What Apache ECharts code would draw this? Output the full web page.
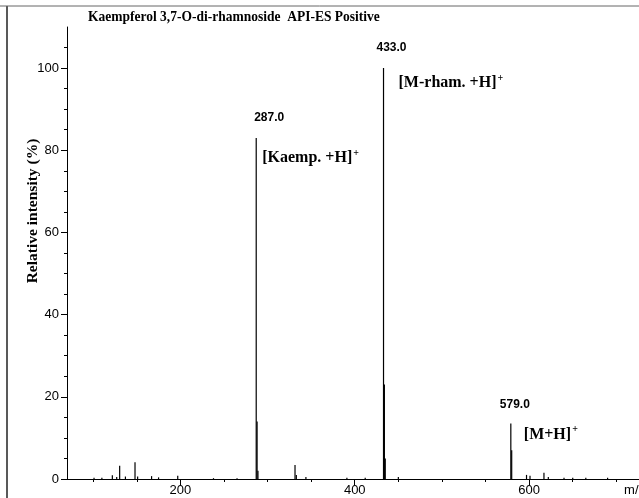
<!DOCTYPE html>
<html><head><meta charset="utf-8">
<script src="https://cdn.jsdelivr.net/npm/echarts@6/dist/echarts.min.js"></script>
<style>html,body{margin:0;padding:0;background:#fff}#c{width:639px;height:498px}</style>
</head><body><div id="c"></div>
<script>
const titleText = 'Kaempferol 3,7-O-di-rhamnoside  API-ES Positive';
const yAxisTitle = 'Relative intensity (%)';
const xUnit = 'm/z';
// peak list (m/z, relative intensity %)
const peakMz =        [101, 110, 122, 127, 130.4, 137, 148, 151, 167, 175, 197, 238, 265, 287, 288, 289, 331.5, 333, 344, 391, 412, 433, 434, 435, 450, 579, 580, 597, 601, 617, 622, 640, 650, 665, 690];
const peakIntensity = [0.3, 0.3, 0.9, 0.5, 3.2,   0.6, 4.1, 0.6, 0.7, 0.4, 0.8, 0.2, 0.2, 83,  14,  2,   3.4,   1.0, 0.5, 0.3, 0.3, 100, 23,  5,   0.5, 13.5, 7,  1.0, 0.8, 1.5, 0.5, 0.3, 0.3, 0.3, 0.3];
const xMajorTicks = [200, 400, 600];
const xMinorTicks = [100, 150, 250, 300, 350, 450, 500, 550, 650, 700];
const yTicks = [0, 20, 40, 60, 80, 100];
const annotations = [
  {mz: 287, y: 83, mass: '287.0', ion: 'Kaemp. +H'},
  {mz: 433, y: 100, mass: '433.0', ion: 'M-rham. +H'},
  {mz: 579, y: 13.5, mass: '579.0', ion: 'M+H'}
];
const massOffsets = [[13, -20], [8, -20], [4, -19]];
const ionOffsets = [[1, 20], [10, 15], [8, 11]];

const chart = echarts.init(document.getElementById('c'));
const serif = '"Liberation Serif", "DejaVu Serif", serif';
const sans = '"Liberation Sans", Arial, sans-serif';
const sticks = peakMz.map((m, i) => [m, peakIntensity[i]]);

chart.setOption({
  animation: false,
  backgroundColor: '#fff',
  grid: {left: 67, right: 0, top: 27, bottom: 19, containLabel: false},
  xAxis: [{
    type: 'value', min: 70, max: 726,
    axisLine: {lineStyle: {color: '#000', width: 1}},
    axisTick: {customValues: xMajorTicks, length: 6, lineStyle: {color: '#000'}},
    axisLabel: {customValues: xMajorTicks, color: '#000', fontFamily: sans, fontSize: 13, margin: 5},
    splitLine: {show: false}
  }, {
    type: 'value', min: 70, max: 726, position: 'bottom',
    axisLine: {show: false},
    axisTick: {customValues: xMinorTicks, length: 3, lineStyle: {color: '#000'}},
    axisLabel: {show: false},
    splitLine: {show: false}
  }],
  yAxis: {
    type: 'value', min: 0, max: 110, interval: 20,
    axisLine: {show: true, lineStyle: {color: '#000', width: 1}},
    axisTick: {show: true, customValues: yTicks, length: 6, lineStyle: {color: '#000'}},
    minorTick: {show: true, splitNumber: 4, length: 3, lineStyle: {color: '#000'}},
    axisLabel: {customValues: yTicks, color: '#000', fontFamily: sans, fontSize: 13, margin: 8},
    splitLine: {show: false}
  },
  series: [{
    type: 'custom',
    data: sticks,
    renderItem: function (params, api) {
      const p0 = api.coord([api.value(0), 0]);
      const p1 = api.coord([api.value(0), api.value(1)]);
      return {type: 'line', shape: {x1: p0[0], y1: p0[1], x2: p1[0], y2: p1[1]},
        style: {stroke: '#000', lineWidth: 1.2}};
    },
    encode: {x: 0, y: 1},
    markPoint: {
      symbol: 'circle', symbolSize: 0,
      data: annotations.flatMap((a, i) => [
        {coord: [a.mz, a.y], label: {show: true, formatter: a.mass, offset: massOffsets[i],
          fontFamily: sans, fontWeight: 'bold', fontSize: 12, color: '#000', position: 'inside'}},
        {coord: [a.mz, a.y], label: {show: true, formatter: '{b|[' + a.ion + ']}{s|+}', offset: ionOffsets[i],
          position: 'right', rich: {b: {fontFamily: serif, fontWeight: 'bold', fontSize: 16, color: '#000'},
          s: {fontFamily: serif, fontWeight: 'bold', fontSize: 10, color: '#000', verticalAlign: 'top', padding: [0,0,10,1]}}}}
      ])
    }
  }],
  graphic: [
    {type: 'line', shape: {x1: 7, y1: 6, x2: 7, y2: 498}, style: {stroke: '#222', lineWidth: 1.5}},
    {type: 'line', shape: {x1: 0, y1: 6, x2: 639, y2: 6}, style: {stroke: '#666', lineWidth: 1}},
    {type: 'text', x: 88, y: 17, scaleX: 0.9, style: {text: titleText, font: 'bold 15px ' + serif, fill: '#000', verticalAlign: 'middle'}},
    {type: 'text', x: 33, y: 211, rotation: Math.PI / 2, style: {text: yAxisTitle, font: 'bold 15.5px ' + serif, fill: '#000', align: 'center', verticalAlign: 'middle'}},
    {type: 'text', right: -6, top: 484, style: {text: xUnit, font: '13px ' + sans, fill: '#000'}}
  ]
});
</script></body></html>
